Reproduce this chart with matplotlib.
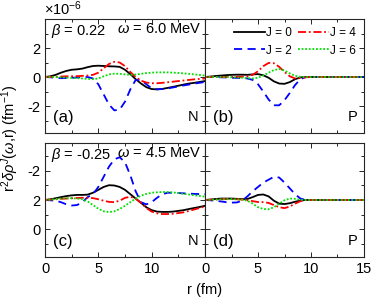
import numpy as np
import matplotlib
matplotlib.use('Agg')
import matplotlib.pyplot as plt
from matplotlib.ticker import FixedLocator, FixedFormatter, MultipleLocator

plt.rcParams['font.family'] = ['Liberation Sans', 'DejaVu Sans']
plt.rcParams['mathtext.fontset'] = 'custom'
plt.rcParams['mathtext.rm'] = 'Liberation Sans'
plt.rcParams['mathtext.it'] = 'Liberation Sans:italic'
plt.rcParams['font.size'] = 10

# r grid (fm)
r = np.arange(0, 15.01, 0.5)

# (a) neutrons, beta = 0.22, omega = 6.0 MeV
a_j0 = [0, 0.05, 0.15, 0.3, 0.42, 0.5, 0.53, 0.58, 0.68, 0.76, 0.78, 0.76, 0.74, 0.73, 0.7, 0.5,
        0.2, -0.15, -0.45, -0.7, -0.83, -0.85, -0.82, -0.75, -0.68, -0.6, -0.52, -0.45, -0.4, -0.34, -0.28]
a_j2 = [0, -0.02, -0.05, -0.08, -0.07, -0.05, -0.03, -0.01, 0.0, -0.1, -0.5, -1.2, -1.9, -2.3, -2.25, -1.7,
        -0.85, -0.2, -0.2, -0.5, -0.78, -0.85, -0.83, -0.78, -0.72, -0.65, -0.58, -0.52, -0.45, -0.4, -0.34]
a_j4 = [0, 0, 0.02, 0.03, 0.05, 0.05, 0.06, 0.08, 0.1, 0.15, 0.3, 0.6, 0.9, 1.05, 1.0, 0.75,
        0.35, 0.0, -0.25, -0.38, -0.43, -0.43, -0.4, -0.36, -0.32, -0.28, -0.24, -0.2, -0.16, -0.13, -0.1]
a_j6 = [0, 0, 0, -0.02, -0.04, -0.06, -0.08, -0.1, -0.13, -0.15, -0.1, 0.05, 0.18, 0.23, 0.22, 0.18,
        0.15, 0.17, 0.22, 0.27, 0.3, 0.32, 0.32, 0.32, 0.3, 0.28, 0.25, 0.22, 0.18, 0.14, 0.1]

# (b) protons, beta = 0.22
b_j0 = [0, 0.03, 0.07, 0.1, 0.13, 0.15, 0.16, 0.16, 0.15, 0.18, 0.2, 0.12, -0.05, -0.3, -0.45, -0.47,
        -0.35, -0.15, -0.03, 0, 0, 0, 0, 0, 0, 0, 0, 0, 0, 0, 0]
b_j2 = [0, 0, 0, -0.02, -0.03, -0.05, -0.06, -0.07, -0.1, -0.2, -0.5, -1.0, -1.55, -1.95, -1.95, -1.6,
        -1.1, -0.55, -0.15, 0, 0, 0, 0, 0, 0, 0, 0, 0, 0, 0, 0]
b_j4 = [0, 0, 0, 0, 0, 0, 0.01, 0.02, 0.05, 0.15, 0.4, 0.75, 0.97, 0.95, 0.7, 0.35,
        0.05, -0.1, -0.07, -0.02, 0, 0, 0, 0, 0, 0, 0, 0, 0, 0, 0]
b_j6 = [0, 0, 0, 0, 0, -0.02, -0.03, -0.05, -0.08, -0.1, -0.05, 0.1, 0.3, 0.48, 0.55, 0.45,
        0.25, 0.08, 0.01, 0, 0, 0, 0, 0, 0, 0, 0, 0, 0, 0, 0]

# (c) neutrons, beta = -0.25, omega = 4.5 MeV
c_j0 = [2, 2.05, 2.12, 2.2, 2.27, 2.32, 2.35, 2.35, 2.37, 2.5, 2.7, 2.9, 3.02, 3.0, 2.9, 2.7,
        2.4, 2.1, 1.8, 1.5, 1.3, 1.2, 1.18, 1.18, 1.2, 1.25, 1.3, 1.38, 1.45, 1.52, 1.6]
c_j2 = [2, 1.98, 1.95, 1.85, 1.7, 1.62, 1.65, 1.85, 2.2, 2.4, 2.9, 3.6, 4.3, 4.8, 4.95, 4.6,
        3.7, 2.6, 1.85, 1.7, 1.85, 2.15, 2.4, 2.5, 2.5, 2.48, 2.46, 2.44, 2.42, 2.41, 2.4]
c_j4 = [2, 2.02, 2.05, 2.08, 2.1, 2.12, 2.14, 2.15, 2.15, 2.13, 2.05, 1.95, 1.87, 1.85, 1.95, 2.15,
        2.22, 2.1, 1.8, 1.45, 1.2, 1.08, 1.03, 1.03, 1.05, 1.1, 1.15, 1.25, 1.35, 1.45, 1.55]
c_j6 = [2, 2.02, 2.06, 2.1, 2.12, 2.12, 2.1, 2.05, 1.9, 1.65, 1.4, 1.22, 1.17, 1.22, 1.38, 1.6,
        1.85, 2.1, 2.3, 2.42, 2.5, 2.53, 2.55, 2.55, 2.52, 2.48, 2.42, 2.38, 2.32, 2.28, 2.23]

# (d) protons, beta = -0.25
d_j0 = [2, 2.03, 2.07, 2.1, 2.1, 2.1, 2.08, 2.06, 2.07, 2.2, 2.35, 2.38, 2.25, 1.95, 1.75, 1.72,
        1.78, 1.88, 1.96, 2.0, 2, 2, 2, 2, 2, 2, 2, 2, 2, 2, 2]
d_j2 = [2, 1.98, 1.95, 1.9, 1.85, 1.82, 1.83, 1.95, 2.25, 2.6, 2.9, 3.2, 3.4, 3.6, 3.55, 3.2,
        2.8, 2.4, 2.1, 2.0, 2, 2, 2, 2, 2, 2, 2, 2, 2, 2, 2]
d_j4 = [2, 2.02, 2.04, 2.05, 2.06, 2.06, 2.05, 2.03, 1.98, 1.92, 1.86, 1.85, 1.8, 1.65, 1.5, 1.44,
        1.55, 1.75, 1.92, 1.99, 2, 2, 2, 2, 2, 2, 2, 2, 2, 2, 2]
d_j6 = [2, 2.01, 2.03, 2.05, 2.06, 2.06, 2.05, 2.02, 1.95, 1.75, 1.5, 1.38, 1.36, 1.5, 1.75, 1.98,
        2.1, 2.08, 2.02, 2.0, 2, 2, 2, 2, 2, 2, 2, 2, 2, 2, 2]

labels = ['J = 0', 'J = 2', 'J = 4', 'J = 6']
colors = ['black', '#0000ff', '#ff0000', '#00e000']
styles = ['-', (0, (4.5, 3)), (0, (4.5, 1.5, 1, 1.5)), (0, (1, 1))]

panels = [
    (a_j0, a_j2, a_j4, a_j6),
    (b_j0, b_j2, b_j4, b_j6),
    (c_j0, c_j2, c_j4, c_j6),
    (d_j0, d_j2, d_j4, d_j6),
]
tags = ['(a)', '(b)', '(c)', '(d)']
nuc = ['N', 'P', 'N', 'P']

fig = plt.figure(figsize=(3.74, 3.02), dpi=100)
W, H = 374, 302
boxes = [(45, 19), (205, 19), (45, 143), (205, 143)]
axes = []
for k, (x0, y0) in enumerate(boxes):
    w = 160 if k % 2 == 0 else 159
    ax = fig.add_axes([x0 / W, 1 - (y0 + 114) / H, w / W, 114 / H])
    axes.append(ax)
    for j in range(4):
        ax.plot(r, panels[k][j], color=colors[j], linestyle=styles[j], lw=1.3, label=labels[j])
    ax.set_xlim(0, 15)
    if k < 2:
        ax.set_ylim(-3.86, 4.0)
        ax.yaxis.set_major_locator(FixedLocator([-2, 0, 2]))
        ax.yaxis.set_major_formatter(FixedFormatter(['-2', '0', '2']))
    else:
        ax.set_ylim(-1.93, 5.93)
        ax.yaxis.set_major_locator(FixedLocator([0, 2, 4]))
        ax.yaxis.set_major_formatter(FixedFormatter(['0', '2', '-2']))
    ax.yaxis.set_minor_locator(MultipleLocator(1))
    ax.xaxis.set_major_locator(FixedLocator([0, 5, 10] if k % 2 == 0 else [0, 5, 10, 15]))
    ax.xaxis.set_minor_locator(MultipleLocator(2.5))
    ax.tick_params(which='both', direction='in', top=True, right=True, colors='#262626',
                   labelcolor='black', labelsize=10.5, width=0.7)
    ax.tick_params(which='major', length=3.5)
    ax.tick_params(which='minor', length=2.5)
    for s in ax.spines.values():
        s.set_color('#262626')
        s.set_linewidth(0.8)
    if k % 2 == 1:
        ax.tick_params(labelleft=False)
    if k < 2:
        ax.tick_params(labelbottom=False)
    ax.text(0.05, 0.07, tags[k], transform=ax.transAxes, fontsize=12, ha='left', va='bottom')
    ax.text(0.96, 0.08, nuc[k], transform=ax.transAxes, fontsize=10.5, ha='right', va='bottom')

axes[0].text(0.04, 0.97, r'$\beta$ = 0.22', transform=axes[0].transAxes, fontsize=10.5, ha='left', va='top')
axes[0].text(0.98, 0.97, r'$\omega$ = 6.0 MeV', transform=axes[0].transAxes, fontsize=10.5, ha='right', va='top')
axes[2].text(0.04, 0.97, r'$\beta$ = -0.25', transform=axes[2].transAxes, fontsize=10.5, ha='left', va='top')
axes[2].text(0.98, 0.97, r'$\omega$ = 4.5 MeV', transform=axes[2].transAxes, fontsize=10.5, ha='right', va='top')

h, l = axes[1].get_legend_handles_labels()
axes[1].legend(h, l, ncol=2, loc='upper right', frameon=False, fontsize=8.5, handlelength=2.6,
               handletextpad=0.1, columnspacing=0.5, labelspacing=0.45, borderaxespad=0.3)

fig.text(44 / W, 1 - 9 / H, r'$\times$10$^{-6}$', fontsize=10.5, ha='left', va='center')
fig.text(10 / W, 1 - 138 / H, r'r$^2$$\delta\rho^J$($\omega$,r) (fm$^{-1}$)', rotation=90,
         fontsize=10.5, ha='center', va='center')
fig.text(205 / W, 1 - 290 / H, 'r (fm)', fontsize=10.5, ha='center', va='center')

fig.savefig('out.png', dpi=100)
